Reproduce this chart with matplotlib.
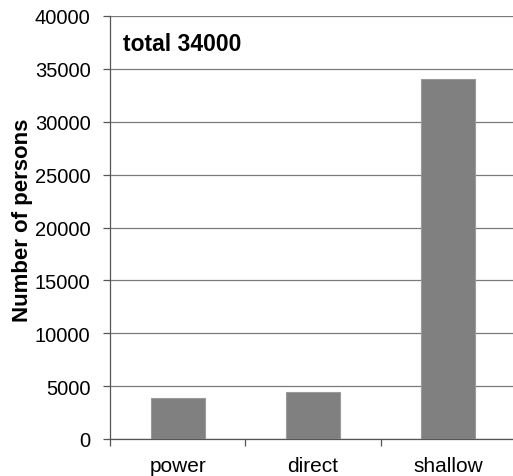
import matplotlib.pyplot as plt
import numpy as np

plt.rcParams['font.family'] = ['Liberation Sans', 'DejaVu Sans']

# Datos
categorias = ['power', 'direct', 'shallow']
personas = [3900, 4450, 34000]
yticks = np.arange(0, 40001, 5000)

fig = plt.figure(figsize=(5.13, 4.77), dpi=100)
ax = fig.add_axes([110 / 513, 37 / 477, 406 / 513, 423 / 477])

x = np.arange(len(categorias))
ax.bar(x, personas, width=0.4, color='#808080', edgecolor='#9a9a9a', linewidth=0.8, zorder=3)

ax.set_xlim(-0.5, 2.5)
ax.set_ylim(0, 40000)
ax.set_yticks(yticks)
ax.yaxis.grid(True, color='#7a7a7a', linewidth=0.9, zorder=0)

# Etiquetas en el centro, marcas en los bordes de categoría
ax.set_xticks(x)
ax.set_xticklabels(categorias, fontsize=15)
ax.set_xticks([-0.5, 0.5, 1.5, 2.5], minor=True)
ax.tick_params(axis='x', which='major', length=0, pad=12)
ax.tick_params(axis='x', which='minor', length=5, width=0.9, color='#555555', direction='out')
ax.tick_params(axis='y', length=5, width=0.9, color='#555555', labelsize=14.5, pad=9, direction='out')

for s in ['top', 'right']:
    ax.spines[s].set_visible(False)
for s in ['left', 'bottom']:
    ax.spines[s].set_color('#555555')
    ax.spines[s].set_linewidth(0.9)

ax.set_ylabel('Number of persons', fontsize=16, fontweight='bold')
ax.yaxis.set_label_coords(-0.19, 0.52)
ax.text(0.032, 0.935, 'total 34000', transform=ax.transAxes, fontsize=16.5,
        fontweight='bold', va='center', ha='left')

fig.savefig('out.png', dpi=100)
